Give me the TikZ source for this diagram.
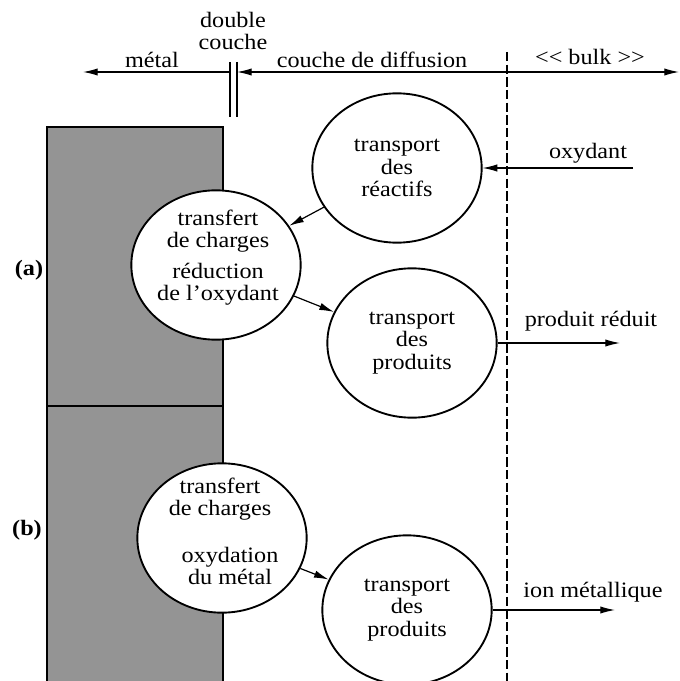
\documentclass[tikz,border=0pt]{standalone}
\usepackage{fontspec}
\setmainfont[FakeStretch=1.1]{Liberation Serif}
\usetikzlibrary{arrows.meta,shapes.geometric}
\newcommand\txt{\fontsize{16.5}{16.9}\selectfont}
\tikzset{
  etape/.style={ellipse,draw,line width=1.4pt,fill=white,minimum width=127pt,minimum height=112pt},
  mot/.style={align=center,font=\txt,inner sep=0pt},
  fl/.style={-{Latex[length=11pt,width=5.5pt]},line width=0.9pt},
}
\begin{document}
\begin{tikzpicture}[x=0.75pt,y=-0.75pt]
  \useasboundingbox (0,0) rectangle (680,681);
  \fill[black!42] (47,127) rectangle (223,681);
  \draw[line width=1.5pt] (47,681) -- (47,127) -- (223,127) -- (223,681) (47,406) -- (223,406);
  \draw[dash pattern=on 7pt off 2.5pt,line width=1pt] (507,52) -- (507,681);
  \foreach \x in {230,237} \draw[line width=1pt] (\x,62) -- (\x,117);
  \node[mot] (lbldouble) at (233,31) {double\\couche};
  \node[mot] (lblmetal) at (152,60) {métal};
  \node[mot] (lbldiff) at (372,60) {couche de diffusion};
  \node[mot] (lblbulk) at (590,57) {<\kern0pt< bulk >\kern0pt>};
  \coordinate (gauche) at (83,72);
  \coordinate (dcg) at (230,72);
  \coordinate (dcd) at (237,72);
  \coordinate (limite) at (507,72);
  \coordinate (droite) at (679,72);
  \draw[fl] (dcg) -- (gauche);
  \draw[fl,{Latex[length=11pt,width=5.5pt]}-] (dcd) -- (limite);
  \draw[fl] (limite) -- (droite);
  \node[mot,font=\txt\bfseries] (cas a) at (29,270) {(a)};
  \node[mot,font=\txt\bfseries] (cas b) at (27,530) {(b)};
  \node[etape] (reactifs) at (397,168) {};
  \node[etape] (transfertA) at (216,265) {};
  \node[etape] (produitsA) at (412,343) {};
  \node[etape] (transfertB) at (222,538) {};
  \node[etape] (produitsB) at (407,610) {};
  \node[mot] (t1) at (reactifs) {transport\\des\\réactifs};
  \node[mot] (t2) at (218,231) {transfert\\de charges};
  \node[mot] (t3) at (218,284) {réduction\\de l'oxydant};
  \node[mot] (t4) at (produitsA) {transport\\des\\produits};
  \node[mot] (t5) at (220,499) {transfert\\de charges};
  \node[mot] (t6) at (230,566) {oxydation\\du métal};
  \node[mot] (t7) at (produitsB) {transport\\des\\produits};
  \coordinate (oxyd) at (633,168);
  \coordinate (reduit) at (620,343);
  \coordinate (ion) at (615,610);
  \node[mot] (lbloxyd) at (588,153) {oxydant};
  \node[mot] (lblreduit) at (591,321) {produit réduit};
  \node[mot] (lblion) at (593,592) {ion métallique};
  \draw[fl] (oxyd) -- (reactifs);
  \draw[fl] (reactifs) -- (transfertA);
  \draw[fl] (transfertA) -- (produitsA);
  \draw[fl] (produitsA) -- (reduit);
  \draw[fl] (transfertB) -- (produitsB);
  \draw[fl] (produitsB) -- (ion);
\end{tikzpicture}
\end{document}
